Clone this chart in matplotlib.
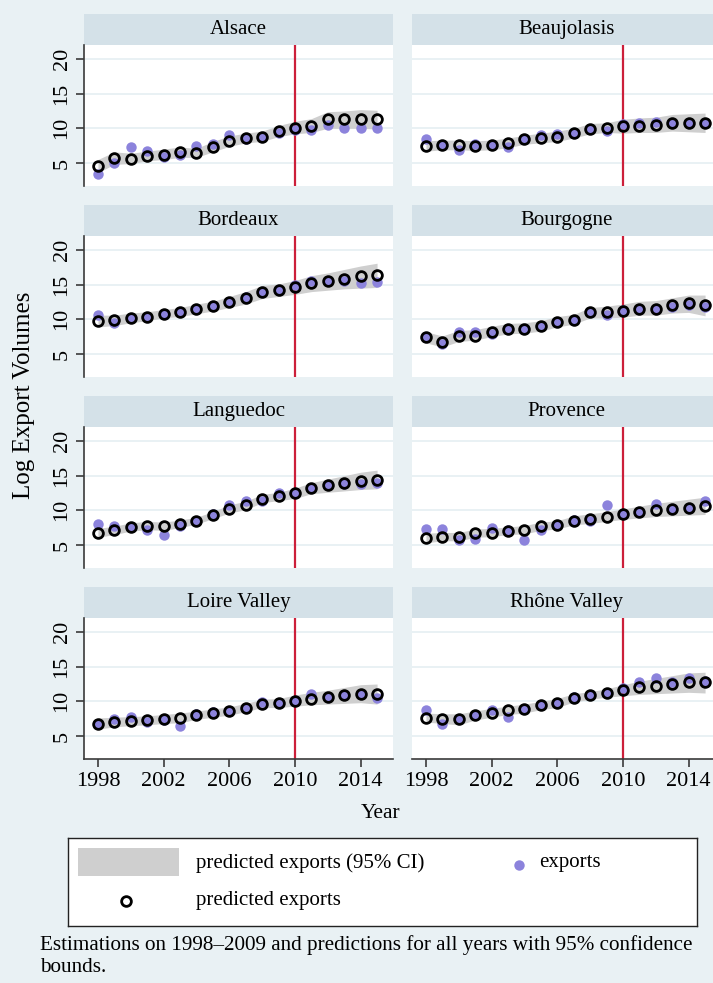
import matplotlib.pyplot as plt

#Serif font like the Stata original
plt.rcParams['font.family'] = ['Liberation Serif', 'DejaVu Serif']

years = list(range(1998, 2016))
regions = ["Alsace", "Beaujolasis", "Bordeaux", "Bourgogne",
           "Languedoc", "Provence", "Loire Valley", "Rhône Valley"]
xtick_years = [1998, 2002, 2006, 2010, 2014]
ytick_vals = [5, 10, 15, 20]
split_year = 2010

#Observed log exports
alsace_exp = [3.4, 5.0, 7.3, 6.7, 5.8, 6.1, 7.4, 7.8, 9.0, 8.4, 8.7, 9.3, 9.7, 9.8, 10.5, 10.0, 10.0, 10.1]
beaujo_exp = [8.5, 7.6, 6.8, 7.7, 7.6, 7.3, 8.5, 9.0, 9.2, 9.3, 9.9, 9.6, 10.6, 10.8, 10.9, 10.8, 10.8, 10.8]
bordeaux_exp = [10.6, 9.4, 10.2, 10.4, 10.8, 11.1, 11.5, 11.9, 12.5, 13.2, 14.0, 14.2, 14.9, 15.5, 15.5, 15.5, 15.3, 15.4]
bourg_exp = [7.4, 6.5, 8.2, 8.1, 7.9, 8.6, 8.6, 9.0, 9.6, 9.9, 11.1, 10.6, 11.3, 11.5, 11.5, 11.8, 12.0, 11.8]
langue_exp = [8.0, 7.7, 7.6, 7.1, 6.5, 7.8, 8.5, 9.5, 10.7, 11.3, 11.4, 12.5, 12.5, 13.2, 13.6, 13.8, 13.8, 14.0]
provence_exp = [7.35, 7.35, 5.75, 5.85, 7.4, 7.2, 5.75, 7.2, 7.9, 8.55, 8.4, 10.7, 9.5, 9.8, 10.9, 10.2, 10.4, 11.3]
loire_exp = [6.7, 7.5, 7.7, 7.0, 7.25, 6.5, 8.1, 8.4, 8.6, 9.1, 9.9, 9.75, 10.0, 11.0, 10.6, 10.85, 11.1, 10.5]
rhone_exp = [8.8, 6.75, 7.5, 8.0, 8.8, 7.7, 8.9, 9.5, 9.8, 10.6, 10.9, 11.2, 11.9, 12.8, 13.3, 12.8, 13.3, 12.9]

#Predicted log exports
alsace_pred = [4.5, 5.7, 5.6, 6.0, 6.2, 6.6, 6.4, 7.3, 8.1, 8.6, 8.8, 9.6, 10.1, 10.4, 11.3, 11.3, 11.4, 11.3]
beaujo_pred = [7.4, 7.6, 7.6, 7.5, 7.6, 7.9, 8.4, 8.6, 8.8, 9.3, 9.9, 10.1, 10.3, 10.4, 10.5, 10.8, 10.8, 10.8]
bordeaux_pred = [9.7, 9.9, 10.2, 10.4, 10.8, 11.1, 11.5, 11.9, 12.5, 13.1, 14.0, 14.2, 14.6, 15.2, 15.5, 15.8, 16.2, 16.4]
bourg_pred = [7.4, 6.7, 7.6, 7.6, 8.2, 8.6, 8.6, 9.0, 9.6, 9.9, 11.0, 11.0, 11.2, 11.5, 11.5, 12.0, 12.3, 12.0]
langue_pred = [6.7, 7.1, 7.6, 7.8, 7.7, 8.0, 8.5, 9.3, 10.2, 10.7, 11.7, 12.0, 12.5, 13.2, 13.6, 13.9, 14.3, 14.4]
provence_pred = [6.0, 6.2, 6.2, 6.7, 6.7, 7.0, 7.2, 7.7, 7.9, 8.5, 8.8, 9.1, 9.5, 9.8, 10.1, 10.2, 10.4, 10.6]
loire_pred = [6.75, 7.0, 7.15, 7.25, 7.45, 7.6, 8.0, 8.3, 8.6, 9.1, 9.65, 9.75, 10.0, 10.4, 10.6, 10.85, 11.1, 11.0]
rhone_pred = [7.6, 7.5, 7.5, 8.0, 8.35, 8.7, 8.9, 9.4, 9.75, 10.5, 10.9, 11.2, 11.6, 12.0, 12.2, 12.5, 12.8, 12.8]

#95% confidence bounds
alsace_lo = [3.6, 4.8, 4.9, 5.3, 5.5, 5.8, 5.8, 6.6, 7.4, 7.9, 8.1, 8.8, 9.2, 9.4, 10.0, 10.0, 10.0, 9.9]
alsace_hi = [5.5, 6.6, 6.4, 6.7, 7.0, 7.3, 7.1, 8.1, 8.9, 9.3, 9.6, 10.4, 11.0, 11.4, 12.4, 12.5, 12.7, 12.6]
beaujo_lo = [6.7, 6.9, 6.9, 6.8, 6.9, 7.2, 7.7, 7.9, 8.1, 8.6, 9.2, 9.4, 9.3, 9.4, 9.4, 9.6, 9.5, 9.4]
beaujo_hi = [8.2, 8.3, 8.3, 8.2, 8.3, 8.6, 9.0, 9.3, 9.6, 10.0, 10.7, 10.8, 11.3, 11.5, 11.6, 12.0, 12.1, 12.2]
bordeaux_lo = [8.9, 9.1, 9.5, 9.8, 10.2, 10.4, 10.8, 11.2, 11.7, 12.2, 13.0, 13.3, 13.6, 14.0, 14.2, 14.4, 14.5, 14.6]
bordeaux_hi = [10.6, 10.6, 10.9, 11.1, 11.4, 11.7, 12.2, 12.6, 13.3, 14.0, 14.9, 15.1, 15.6, 16.3, 16.7, 17.2, 17.7, 18.1]
bourg_lo = [6.6, 6.0, 6.8, 7.0, 7.5, 7.9, 8.0, 8.3, 8.9, 9.3, 10.2, 10.2, 10.3, 10.6, 10.6, 10.9, 11.0, 10.5]
bourg_hi = [8.2, 7.6, 8.4, 8.5, 9.0, 9.4, 9.5, 9.8, 10.4, 10.7, 11.7, 11.9, 12.2, 12.6, 12.7, 13.1, 13.5, 13.5]
langue_lo = [6.1, 6.5, 7.0, 7.2, 7.1, 7.5, 8.0, 8.8, 9.6, 10.1, 11.1, 11.4, 11.7, 12.4, 12.6, 12.8, 13.0, 13.1]
langue_hi = [7.4, 7.7, 8.2, 8.4, 8.3, 8.6, 9.0, 9.8, 10.8, 11.3, 12.3, 12.6, 13.2, 14.0, 14.5, 15.0, 15.5, 15.8]
provence_lo = [5.3, 5.6, 5.6, 6.1, 6.2, 6.5, 6.6, 7.1, 7.3, 7.9, 8.1, 8.4, 8.7, 8.9, 9.1, 9.2, 9.3, 9.4]
provence_hi = [6.7, 6.8, 6.8, 7.3, 7.4, 7.6, 7.8, 8.3, 8.5, 9.2, 9.5, 9.8, 10.2, 10.6, 11.0, 11.3, 11.6, 11.9]
loire_lo = [6.0, 6.3, 6.5, 6.6, 6.8, 6.9, 7.4, 7.7, 8.0, 8.5, 9.1, 9.1, 9.3, 9.5, 9.6, 9.7, 9.8, 9.6]
loire_hi = [7.6, 7.7, 7.8, 7.9, 8.1, 8.3, 8.6, 8.9, 9.2, 9.7, 10.3, 10.4, 10.9, 11.3, 11.6, 12.0, 12.4, 12.5]
rhone_lo = [7.0, 6.8, 6.6, 7.3, 7.7, 8.1, 8.3, 8.8, 9.1, 9.9, 10.3, 10.6, 10.8, 11.0, 11.1, 11.2, 11.3, 11.2]
rhone_hi = [8.3, 8.2, 8.2, 8.6, 9.0, 9.3, 9.6, 10.0, 10.4, 11.1, 11.4, 11.8, 12.4, 12.9, 13.3, 13.7, 14.1, 14.2]

exports = [alsace_exp, beaujo_exp, bordeaux_exp, bourg_exp, langue_exp, provence_exp, loire_exp, rhone_exp]
predicted = [alsace_pred, beaujo_pred, bordeaux_pred, bourg_pred, langue_pred, provence_pred, loire_pred, rhone_pred]
lower = [alsace_lo, beaujo_lo, bordeaux_lo, bourg_lo, langue_lo, provence_lo, loire_lo, rhone_lo]
upper = [alsace_hi, beaujo_hi, bordeaux_hi, bourg_hi, langue_hi, provence_hi, loire_hi, rhone_hi]

#Colors
bg = '#e9f1f4'
strip = '#d4e1e8'
band_col = '#cfcfcf'
exp_col = '#8c83dc'
red = '#cc1f3a'

W, H = 713.0, 983.0
fig = plt.figure(figsize=(W / 100, H / 100), dpi=100, facecolor=bg)

#Panel geometry in pixels
col_x = [84, 412]
row_top = [45, 236, 427, 618]
pw, ph, hh = 309, 141, 31
fs = 15

for i, name in enumerate(regions):
    r, c = divmod(i, 2)
    x0, y0 = col_x[c], row_top[r]

    #Grey title strip
    hdr = fig.add_axes([x0 / W, 1 - y0 / H, pw / W, hh / H])
    hdr.set_facecolor(strip)
    hdr.set_xticks([])
    hdr.set_yticks([])
    for s in hdr.spines.values():
        s.set_visible(False)
    hdr.text(0.5, 0.5, name, ha='center', va='center', fontsize=fs, transform=hdr.transAxes)

    ax = fig.add_axes([x0 / W, 1 - (y0 + ph) / H, pw / W, ph / H])
    ax.set_facecolor('white')
    ax.set_xlim(1997.15, 2015.97)
    ax.set_ylim(1.67, 22.03)
    ax.set_axisbelow(True)
    ax.yaxis.grid(True, color=bg, lw=1.4)

    ax.fill_between(years, lower[i], upper[i], color=band_col, lw=0, zorder=1)
    ax.axvline(split_year, color=red, lw=1.6, zorder=2)
    ax.plot(years, exports[i], 'o', ms=7.5, color=exp_col, mec='none', zorder=3)
    ax.plot(years, predicted[i], 'o', ms=7, mfc='none', mec='black', mew=2.0, zorder=4)

    for s in ['top', 'right']:
        ax.spines[s].set_visible(False)
    ax.spines['left'].set_visible(c == 0)
    ax.spines['bottom'].set_visible(r == 3)
    for s in ['left', 'bottom']:
        ax.spines[s].set_color('#3a3a3a')
        ax.spines[s].set_linewidth(1.2)

    ax.set_yticks(ytick_vals)
    ax.set_xticks(xtick_years)
    ax.tick_params(length=6, width=1.2, color='#3a3a3a', labelsize=fs + 1, pad=3)
    if c == 0:
        ax.set_yticklabels([str(v) for v in ytick_vals], rotation=90, va='center')
    else:
        ax.tick_params(axis='y', left=False, labelleft=False)
    if r != 3:
        ax.tick_params(axis='x', bottom=False, labelbottom=False)

#Axis titles
fig.text(381 / W, 1 - 813 / H, 'Year', ha='center', va='center', fontsize=fs + 0.5)
fig.text(24 / W, 1 - 395 / H, 'Log Export Volumes', ha='center', va='center', rotation=90, fontsize=fs + 3)

#Legend box drawn by hand
lg = fig.add_axes([68 / W, 1 - 926 / H, 629 / W, 88 / H])
lg.set_xlim(0, 629)
lg.set_ylim(88, 0)
lg.set_facecolor('white')
lg.set_xticks([])
lg.set_yticks([])
for s in lg.spines.values():
    s.set_color('#222222')
    s.set_linewidth(1.0)
lg.fill_between([10, 111], 10, 38, color=band_col, lw=0)
lg.text(128, 25, 'predicted exports (95% CI)', va='center', fontsize=fs)
lg.plot([58], [63], 'o', ms=7, mfc='none', mec='black', mew=2.0)
lg.text(128, 63, 'predicted exports', va='center', fontsize=fs)
lg.plot([451], [27], 'o', ms=7.5, color=exp_col, mec='none')
lg.text(471, 25, 'exports', va='center', fontsize=fs)

#Caption
fig.text(40 / W, 1 - 935 / H, 'Estimations on 1998–2009 and predictions for all years with 95% confidence\nbounds.',
         ha='left', va='top', fontsize=fs + 0.2, linespacing=1.2)

plt.savefig('out.png', dpi=100, facecolor=bg)
